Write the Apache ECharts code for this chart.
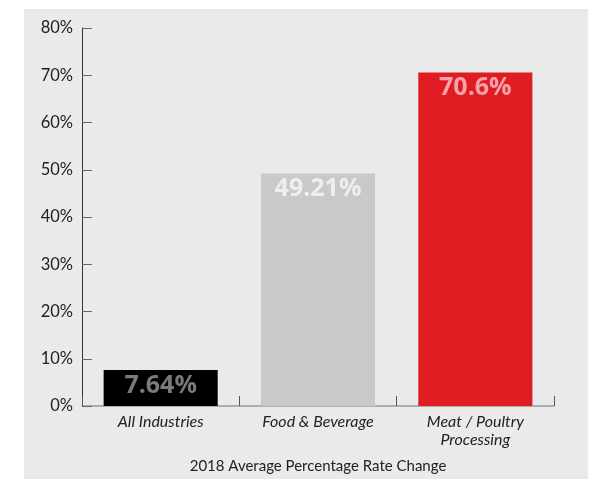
<!DOCTYPE html>
<html><head><meta charset="utf-8">
<script src="https://cdn.jsdelivr.net/npm/echarts@6/dist/echarts.min.js"></script>
<style>html,body{margin:0;padding:0;background:#fff}#c{width:591px;height:479px}</style>
</head><body><div id="c"></div>
<script>
const categories = ['All Industries', 'Food & Beverage', 'Meat / Poultry\nProcessing'];
const values = [7.64, 49.21, 70.6];
const valueLabels = ['7.64%', '49.21%', '70.6%'];
const barColors = ['#000000', '#c9c9c7', '#e01b22'];
const labelColors = ['#7a7a7a', '#efefef', '#f5a3aa'];
const axisName = '2018 Average Percentage Rate Change';

const chart = echarts.init(document.getElementById('c'));
chart.setOption({
  backgroundColor: '#ffffff',
  graphic: [{type: 'rect', z: -10, shape: {x: 24, y: 9, width: 564, height: 470}, style: {fill: '#eaeaea'}}],
  grid: {left: 82, right: 37, top: 28, bottom: 71},
  xAxis: {
    type: 'category', data: categories,
    name: axisName, nameLocation: 'middle', nameGap: 53,
    nameTextStyle: {fontFamily: 'Lato', fontSize: 15, color: '#222'},
    axisLine: {lineStyle: {color: '#999', width: 1.5}},
    axisTick: {show: true, inside: true, length: 10, lineStyle: {color: '#555'}},
    axisLabel: {fontFamily: 'Lato', fontStyle: 'italic', fontSize: 16, color: '#222', margin: 7, lineHeight: 18}
  },
  yAxis: {
    type: 'value', min: 0, max: 80, interval: 10,
    axisLine: {show: true, lineStyle: {color: '#333', width: 1}},
    axisTick: {show: true, inside: true, length: 10, lineStyle: {color: '#666'}},
    splitLine: {show: false},
    axisLabel: {formatter: '{value}%', fontFamily: 'Lato', fontSize: 16.5, color: '#222', margin: 9}
  },
  series: [{
    type: 'bar', barWidth: '72.5%',
    data: values.map((v, i) => ({
      value: v,
      itemStyle: {color: barColors[i]},
      label: {show: true, position: 'insideTop', distance: 3, formatter: valueLabels[i],
        color: labelColors[i], fontFamily: 'Open Sans', fontWeight: 'bold', fontSize: 25}
    }))
  }]
});
</script></body></html>
